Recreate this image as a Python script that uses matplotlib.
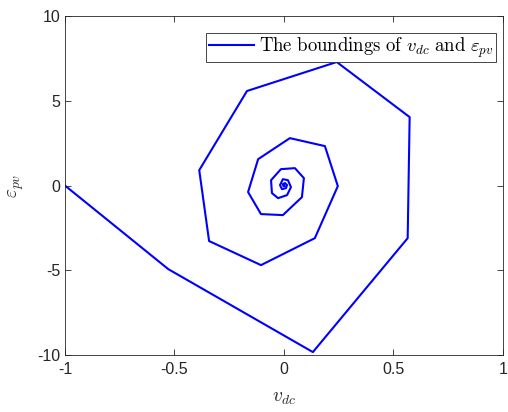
import matplotlib
matplotlib.use('Agg')
import matplotlib.pyplot as plt

# boundary trajectory (spiral towards origin)
v_dc = [-1.0, -0.528, 0.132, 0.565, 0.574, 0.241, -0.169, -0.387, -0.342, -0.105,
        0.141, 0.246, 0.187, 0.027, -0.118, -0.164, -0.105, -0.005, 0.082, 0.091,
        0.050, -0.014, -0.059, -0.055, -0.027, 0.014, 0.032, 0.018, -0.005, -0.018,
        -0.009, 0.009, 0.014, 0.005, -0.005, -0.002, 0.002, 0.002, 0.0]
eps_pv = [0.0, -4.93, -9.82, -3.10, 4.04, 7.29, 5.58, 0.91, -3.27, -4.69,
          -3.10, -0.03, 2.33, 2.80, 1.56, -0.38, -1.68, -1.74, -0.68, 0.44,
          1.03, 0.97, 0.32, -0.44, -0.74, -0.56, -0.09, 0.32, 0.38, 0.03,
          -0.21, -0.15, 0.03, 0.15, 0.09, -0.03, -0.03, 0.0, 0.0]

xticks = [-1, -0.5, 0, 0.5, 1]
xticklabels = ['-1', '-0.5', '0', '0.5', '1']
yticks = [-10, -5, 0, 5, 10]
yticklabels = ['-10', '-5', '0', '5', '10']

plt.rcParams['font.family'] = ['Liberation Sans', 'DejaVu Sans']
plt.rcParams['mathtext.fontset'] = 'cm'

fig = plt.figure(figsize=(5.08, 4.12), dpi=100)
ax = fig.add_axes([0.128, 0.138, 0.862, 0.823])

ax.plot(v_dc, eps_pv, color=(0, 0, 1), linewidth=1.5,
        label=r'$\mathrm{The\ boundings\ of\ }v_{dc}\mathrm{\ and\ }\varepsilon_{pv}$')

ax.set_xlim(-1, 1)
ax.set_ylim(-10, 10)
ax.set_xticks(xticks, xticklabels)
ax.set_yticks(yticks, yticklabels)
ax.tick_params(direction='in', top=True, right=True, labelsize=11.5,
               colors='#262626', length=4, width=0.6)
ax.tick_params(axis='x', pad=5)
for s in ax.spines.values():
    s.set_color('#262626')
    s.set_linewidth(0.6)

ax.set_xlabel(r'$v_{dc}$', fontsize=14, color='#262626', labelpad=9)
ax.set_ylabel(r'$\varepsilon_{pv}$', fontsize=14, color='#262626', labelpad=8)

leg = ax.legend(loc='upper right', bbox_to_anchor=(496 / 508, 1 - 33 / 412),
                bbox_transform=fig.transFigure, fontsize=13.5, fancybox=False,
                framealpha=1, edgecolor='#262626', handlelength=2.4,
                borderaxespad=0, borderpad=0.12, handletextpad=0.3)
leg.get_frame().set_linewidth(0.6)

fig.savefig('out.png', dpi=100)
